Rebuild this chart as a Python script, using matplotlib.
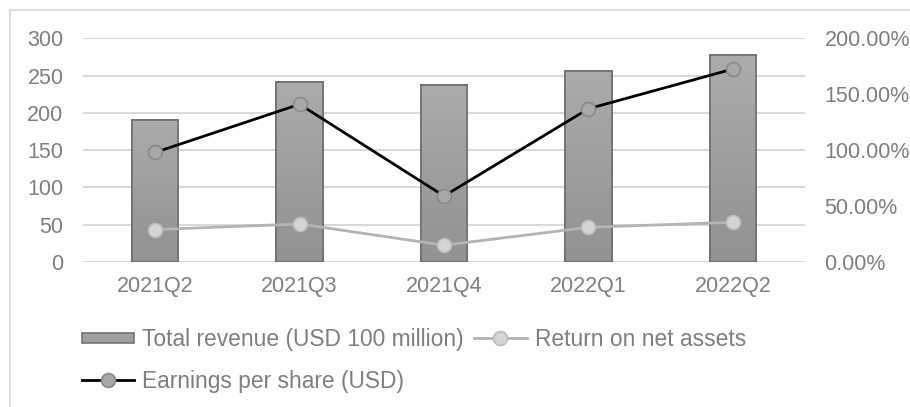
import numpy as np
import matplotlib
matplotlib.use('Agg')
import matplotlib.pyplot as plt
from matplotlib.lines import Line2D
from matplotlib.patches import Rectangle
from matplotlib.legend_handler import HandlerPatch

plt.rcParams['font.family'] = ['Liberation Sans', 'DejaVu Sans']

quarters = ['2021Q2', '2021Q3', '2021Q4', '2022Q1', '2022Q2']
revenue = [190, 241, 238, 256, 277]          # USD 100 million
roe = [0.29, 0.34, 0.15, 0.31, 0.355]        # return on net assets
eps = [0.98, 1.41, 0.59, 1.37, 1.725]        # earnings per share (USD)

txt = '#7f7f7f'
grid = '#d9d9d9'
fs = 15.5
leg_fs = 16.4

W, H = 910, 407
fig = plt.figure(figsize=(W / 100, H / 100), dpi=100)
ax = fig.add_axes([83 / W, 1 - 262 / H, (805 - 83) / W, (262 - 38.3) / H])

x = np.arange(len(quarters))
bars = ax.bar(x, revenue, width=0.32, color='#a0a0a0', edgecolor='#6b6b6b',
              linewidth=1.1, zorder=2)

# vertical gradient inside each bar
grad = np.linspace(0, 1, 256).reshape(-1, 1)
cmap = matplotlib.colors.LinearSegmentedColormap.from_list('g', ['#929292', '#ababab'])
for b in bars:
    bx, by = b.get_x(), b.get_y()
    im = ax.imshow(grad, extent=[bx, bx + b.get_width(), by, by + b.get_height()],
                   origin='lower', cmap=cmap, aspect='auto', zorder=2.1)
    im.set_clip_path(b)
    ol = Rectangle((bx, by), b.get_width(), b.get_height(), fill=False,
                   edgecolor='#6b6b6b', linewidth=1.1, zorder=2.2)
    ax.add_patch(ol)

ax.set_xlim(-0.5, len(quarters) - 0.5)
ax.set_ylim(0, 300)
ax.set_yticks(np.arange(0, 301, 50))
ax.set_xticks(x)
ax.set_xticklabels(quarters)
ax.yaxis.grid(True, color=grid, linewidth=1.5, zorder=0)
ax.set_axisbelow(True)
for s in ax.spines.values():
    s.set_visible(False)
ax.tick_params(axis='both', length=0, labelsize=fs, colors=txt)
ax.tick_params(axis='y', pad=14)
ax.tick_params(axis='x', pad=10)

ax2 = ax.twinx()
ax2.set_ylim(0, 2)
ax2.set_yticks(np.arange(0, 2.01, 0.5))
ax2.set_yticklabels(['{:.2f}%'.format(v * 100) for v in np.arange(0, 2.01, 0.5)])
for s in ax2.spines.values():
    s.set_visible(False)
ax2.tick_params(axis='y', length=0, labelsize=fs, colors=txt, pad=14)

l_roe, = ax2.plot(x, roe, color='#b4b4b4', linewidth=2.0, marker='o', markersize=10,
                  markerfacecolor='#d4d4d4', markeredgecolor='#bdbdbd', markeredgewidth=1.2)
l_eps, = ax2.plot(x, eps, color='black', linewidth=2.0, marker='o', markersize=10,
                  markerfacecolor='#a8a8a8', markeredgecolor='#8a8a8a', markeredgewidth=1.2)


def thin_rect(legend, orig_handle, xdescent, ydescent, width, height, fontsize):
    return Rectangle((-xdescent, -ydescent + height * 0.2), width, height * 0.6)


bar_h = Rectangle((0, 0), 1, 1, facecolor='#a0a0a0', edgecolor='#6b6b6b', linewidth=1.1)
leg = fig.legend([bar_h, l_eps, l_roe],
                 ['Total revenue (USD 100 million)', 'Earnings per share (USD)', 'Return on net assets'],
                 ncol=2, loc='upper left', bbox_to_anchor=(82 / W, 1 - 328 / H),
                 frameon=False, fontsize=leg_fs, handlelength=2.3, handletextpad=0.35,
                 columnspacing=0.45, labelspacing=0.82, borderpad=0, borderaxespad=0,
                 handler_map={Rectangle: HandlerPatch(patch_func=thin_rect)})
for t in leg.get_texts():
    t.set_color(txt)

# chart area border (left and top edges visible)
fig.add_artist(Line2D([9.5 / W, 9.5 / W], [0, 1 - 9.5 / H], color=grid, linewidth=1.2))
fig.add_artist(Line2D([9.5 / W, 1], [1 - 9.5 / H, 1 - 9.5 / H], color=grid, linewidth=1.2))

fig.savefig('out.png', dpi=100)
